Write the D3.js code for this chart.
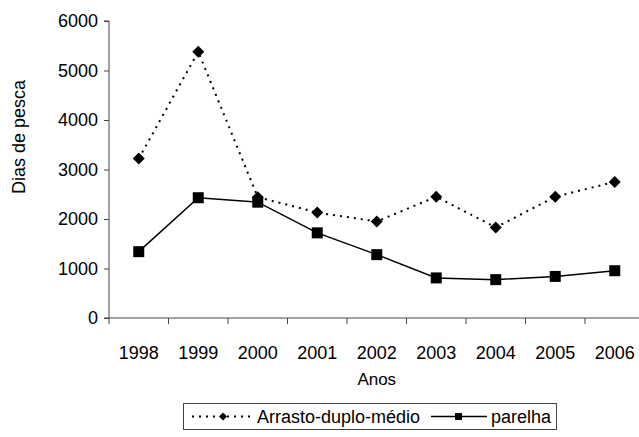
<!DOCTYPE html>
<html><head><meta charset="utf-8">
<script src="https://cdn.jsdelivr.net/npm/d3@7"></script>
<style>
html,body{margin:0;padding:0;background:#fff;}
svg{display:block;font-family:"Liberation Sans",Arial,sans-serif;}
</style></head>
<body>
<svg id="c" width="639" height="437"></svg>
<script>
const years = ["1998","1999","2000","2001","2002","2003","2004","2005","2006"];
const arrasto = [3220, 5380, 2440, 2130, 1950, 2450, 1830, 2450, 2750];
const parelha = [1340, 2430, 2340, 1720, 1280, 810, 775, 840, 955];
const yTicks = [0, 1000, 2000, 3000, 4000, 5000, 6000];
const seriesNames = ["Arrasto-duplo-médio", "parelha"];

(function () {
const svg = d3.select("#c");
const pL = 109, pR = 644.5, pT = 21, pB = 318;
const fs = 18;

const x = d3.scaleBand().domain(years).range([pL, pR]);
const y = d3.scaleLinear().domain([0, 6000]).range([pB, pT]);
const cx = d => x(d) + x.bandwidth() / 2;

// y axis
const ya = svg.append("g").attr("transform", `translate(${pL},0)`)
  .call(d3.axisLeft(y).tickValues(yTicks).tickSize(5).tickPadding(6).tickFormat(d3.format("d")));
ya.select(".domain").attr("stroke", "#444").attr("d", `M-5,${pT}H0V${pB}H-5`);
ya.selectAll(".tick line").attr("stroke", "#444");
ya.selectAll("text").attr("font-size", fs).attr("fill", "#000").attr("font-family", "Liberation Sans, Arial, sans-serif");

// x axis line with ticks at band boundaries
const xg = svg.append("g");
xg.append("line").attr("x1", pL).attr("x2", pR).attr("y1", pB).attr("y2", pB).attr("stroke", "#444");
const bounds = years.map(d => x(d)).concat([pR]);
xg.selectAll(".bt").data(bounds).join("line")
  .attr("x1", d => d).attr("x2", d => d).attr("y1", pB).attr("y2", pB + 6).attr("stroke", "#444");
xg.selectAll(".xl").data(years).join("text")
  .attr("x", d => cx(d)).attr("y", pB + 41).attr("text-anchor", "middle")
  .attr("font-size", fs).text(d => d);

// axis titles
svg.append("text").attr("x", cx("2002")).attr("y", 385).attr("text-anchor", "middle")
  .attr("font-size", fs - 1).text("Anos");
svg.append("text").attr("transform", "translate(25,137) rotate(-90)").attr("text-anchor", "middle")
  .attr("font-size", fs).text("Dias de pesca");

const line = d3.line().x((d, i) => cx(years[i])).y(d => y(d));

svg.append("path").datum(arrasto).attr("d", line).attr("fill", "none")
  .attr("stroke", "#000").attr("stroke-width", 2).attr("stroke-dasharray", "2,5");
svg.append("path").datum(parelha).attr("d", line).attr("fill", "none")
  .attr("stroke", "#000").attr("stroke-width", 1.5);

const diamond = (s) => `M0,${-s}L${s},0L0,${s}L${-s},0Z`;
svg.selectAll(".dm").data(arrasto).join("path")
  .attr("transform", (d, i) => `translate(${cx(years[i])},${y(d)})`)
  .attr("d", diamond(6)).attr("fill", "#000");
svg.selectAll(".sq").data(parelha).join("rect")
  .attr("x", (d, i) => cx(years[i]) - 5.5).attr("y", d => y(d) - 5.5)
  .attr("width", 11).attr("height", 11).attr("fill", "#000");

// legend
const lg = svg.append("g");
lg.append("rect").attr("x", 183.5).attr("y", 403.5).attr("width", 373).attr("height", 26)
  .attr("fill", "#fff").attr("stroke", "#444");
const ly = 416.5;
lg.append("line").attr("x1", 192).attr("x2", 250).attr("y1", ly).attr("y2", ly)
  .attr("stroke", "#000").attr("stroke-width", 2).attr("stroke-dasharray", "2,5");
lg.append("path").attr("transform", `translate(223,${ly})`).attr("d", diamond(4)).attr("fill", "#000");
lg.append("text").attr("x", 257).attr("y", ly + 6.5).attr("font-size", fs).text(seriesNames[0]);
lg.append("line").attr("x1", 431).attr("x2", 487).attr("y1", ly).attr("y2", ly)
  .attr("stroke", "#000").attr("stroke-width", 1.5);
lg.append("rect").attr("x", 455).attr("y", ly - 3.5).attr("width", 7).attr("height", 7).attr("fill", "#000");
lg.append("text").attr("x", 491).attr("y", ly + 6.5).attr("font-size", fs).text(seriesNames[1]);
})();
</script>
</body></html>
